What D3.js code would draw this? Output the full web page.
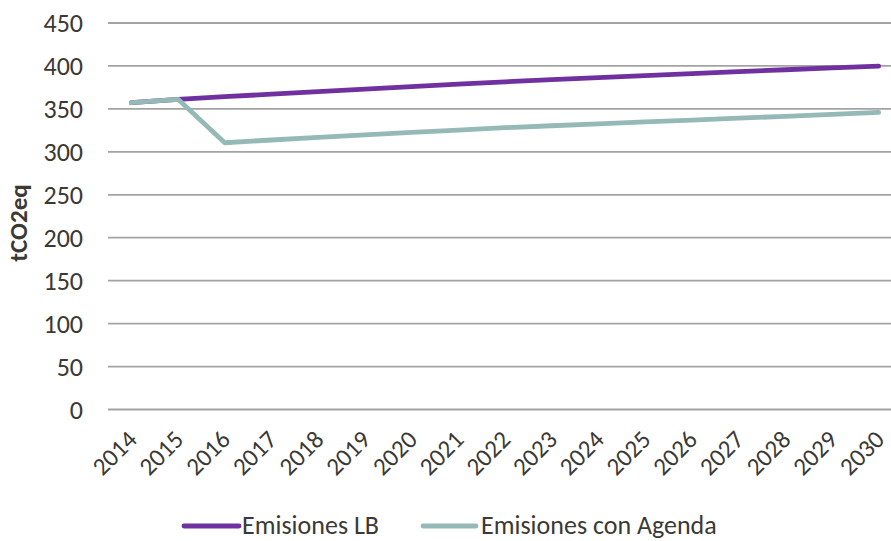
<!DOCTYPE html>
<html>
<head>
<meta charset="utf-8">
<script src="https://cdn.jsdelivr.net/npm/d3@7"></script>
<style>
  html, body { margin: 0; padding: 0; background: #fff; }
  svg { display: block; }
  text { font-family: Carlito, "Open Sans", sans-serif; fill: #3b3934; }
</style>
</head>
<body>
<svg id="chart" width="891" height="541"></svg>
<script>
// Years on the category axis
const years = ["2014","2015","2016","2017","2018","2019","2020","2021","2022",
               "2023","2024","2025","2026","2027","2028","2029","2030"];

// Baseline emissions (tCO2eq)
const emisionesLB = [356.6, 360.6, 363.6, 366.6, 369.6, 372.5, 375.4, 378.2, 380.9,
                     383.4, 385.8, 388.2, 390.5, 392.8, 395.0, 397.2, 399.3];

// Emissions with the agenda applied (tCO2eq)
const emisionesAgenda = [356.6, 360.6, 310.0, 313.2, 316.2, 319.1, 322.0, 324.8, 327.5,
                         329.8, 332.0, 334.2, 336.4, 338.6, 340.8, 343.1, 345.4];

const yTicks = [0, 50, 100, 150, 200, 250, 300, 350, 400, 450];

const seriesNames = ["Emisiones LB", "Emisiones con Agenda"];
const seriesColors = ["#7030a0", "#95b9b7"];

const svg = d3.select("#chart");

const plot = { left: 108, right: 902, top: 22.5, bottom: 409 };

const x = d3.scaleBand().domain(years).range([plot.left, plot.right]);
const y = d3.scaleLinear().domain([0, 450]).range([plot.bottom, plot.top]);
const cx = d => x(d) + x.bandwidth() / 2;

// Horizontal gridlines and y tick labels
const yAxis = d3.axisLeft(y).tickValues(yTicks).tickSize(0).tickPadding(0);
const gy = svg.append("g").attr("transform", `translate(${plot.left},0)`).call(yAxis);
gy.select(".domain").remove();
gy.selectAll(".tick line")
  .attr("x2", 891 - plot.left)
  .attr("stroke", "#a3a3a3")
  .attr("stroke-width", 1.8);
gy.selectAll(".tick text")
  .attr("x", 83 - plot.left)
  .attr("dy", "0.36em")
  .style("font-size", "26px")
  .style("font-family", 'Carlito, "Open Sans", sans-serif')
  .attr("fill", "#3b3934");

// Rotated year labels
const xAxis = d3.axisBottom(x).tickSize(0).tickPadding(0);
const gx = svg.append("g").attr("transform", `translate(0,${plot.bottom})`).call(xAxis);
gx.select(".domain").remove();
gx.selectAll(".tick text")
  .attr("text-anchor", "end")
  .attr("x", 0).attr("y", 0).attr("dy", 0)
  .attr("transform", "translate(7,32) rotate(-45)")
  .style("font-size", "25px")
  .style("font-family", 'Carlito, "Open Sans", sans-serif')
  .attr("fill", "#3b3934");

// Axis title
svg.append("text")
  .attr("transform", `translate(27,223) rotate(-90)`)
  .attr("text-anchor", "middle")
  .style("font-size", "25px")
  .style("font-weight", "bold")
  .text("tCO2eq");

// Lines
const line = d3.line().x((d, i) => cx(years[i])).y(d => y(d));
[emisionesLB, emisionesAgenda].forEach((vals, k) => {
  svg.append("path")
    .datum(vals)
    .attr("d", line)
    .attr("fill", "none")
    .attr("stroke", seriesColors[k])
    .attr("stroke-width", 4.8)
    .attr("stroke-linecap", "round")
    .attr("stroke-linejoin", "round");
});

// Legend
const legendItems = [
  { x1: 184, x2: 239, tx: 242 },
  { x1: 423, x2: 476, tx: 481 }
];
legendItems.forEach((it, k) => {
  svg.append("line")
    .attr("x1", it.x1).attr("x2", it.x2)
    .attr("y1", 526).attr("y2", 526)
    .attr("stroke", seriesColors[k])
    .attr("stroke-width", 4.8)
    .attr("stroke-linecap", "round");
  svg.append("text")
    .attr("x", it.tx).attr("y", 534)
    .style("font-size", "26px")
    .text(seriesNames[k]);
});
</script>
</body>
</html>
